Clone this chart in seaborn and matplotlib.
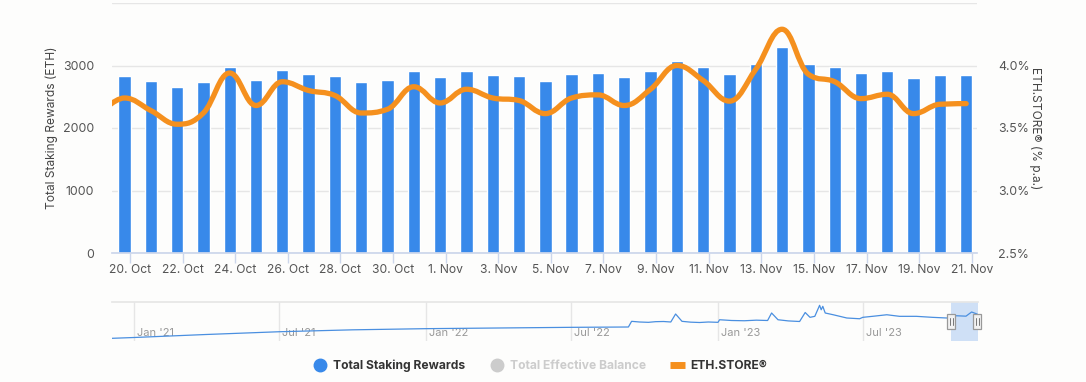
import numpy as np
import pandas as pd
import matplotlib
matplotlib.use("Agg")
import matplotlib.pyplot as plt
import matplotlib.transforms as mtransforms
from matplotlib.path import Path
from matplotlib.patches import PathPatch, Rectangle
from matplotlib.lines import Line2D
import seaborn as sns


# -------------------------------
# Data
# -------------------------------
bar_dates = pd.date_range("2023-10-20", "2023-11-21", freq="D")
staking_rewards = [2829, 2749, 2652, 2733, 2973, 2765, 2925, 2861, 2829, 2733,
                   2765, 2909, 2813, 2909, 2845, 2829, 2749, 2861, 2877, 2813,
                   2909, 3070, 2973, 2861, 3021, 3294, 3021, 2973, 2877, 2909,
                   2797, 2845, 2845]

# ETH.STORE starts one day earlier (clipped at the left edge)
store_dates = pd.date_range("2023-10-19", "2023-11-21", freq="D")
eth_store = [3.60, 3.74, 3.64, 3.53, 3.62, 3.94, 3.68, 3.87, 3.80, 3.76,
             3.62, 3.65, 3.83, 3.70, 3.81, 3.74, 3.72, 3.615, 3.74, 3.765,
             3.68, 3.81, 4.00, 3.88, 3.715, 3.97, 4.29, 3.93, 3.87, 3.735,
             3.77, 3.615, 3.69, 3.695]

tick_labels = ["20. Oct", "22. Oct", "24. Oct", "26. Oct", "28. Oct", "30. Oct",
               "1. Nov", "3. Nov", "5. Nov", "7. Nov", "9. Nov", "11. Nov",
               "13. Nov", "15. Nov", "17. Nov", "19. Nov", "21. Nov"]

left_ticks = [0, 1000, 2000, 3000, 4000]
left_tick_labels = ["0", "1000", "2000", "3000", ""]
right_ticks = [2.5, 3.0, 3.5, 4.0, 4.5]
right_tick_labels = ["2.5%", "3.0%", "3.5%", "4.0%", ""]

# navigator (full history of daily rewards)
nav_dates = pd.to_datetime([
    "2020-12-04", "2021-01-01", "2021-04-01", "2021-07-01", "2021-10-01",
    "2022-01-01", "2022-04-01", "2022-07-01", "2022-09-11", "2022-09-15",
    "2022-09-25", "2022-10-06", "2022-10-15", "2022-10-25", "2022-11-03",
    "2022-11-09", "2022-11-17", "2022-11-28", "2022-12-09", "2022-12-20",
    "2023-01-01", "2023-01-03", "2023-01-18", "2023-02-03", "2023-02-18",
    "2023-03-04", "2023-03-09", "2023-03-17", "2023-03-30", "2023-04-13",
    "2023-04-20", "2023-04-26", "2023-05-02", "2023-05-08", "2023-05-10",
    "2023-05-12", "2023-05-15", "2023-05-25", "2023-06-11", "2023-06-27",
    "2023-07-01", "2023-07-15", "2023-07-31", "2023-08-16", "2023-09-06",
    "2023-09-26", "2023-10-14", "2023-10-26", "2023-11-07", "2023-11-14",
    "2023-11-21"])
nav_rewards = [240, 340, 700, 1030, 1260,
               1400, 1480, 1560, 1600, 2280,
               2200, 2160, 2240, 2260, 2200,
               3160, 2280, 2180, 2140, 2200,
               2160, 2470, 2380, 2350, 2420,
               2380, 3280, 2470, 2330, 2260,
               3340, 2760, 2880, 4200, 3670,
               4080, 3280, 3070, 2680, 2590,
               2760, 2900, 3070, 2880, 2880,
               2760, 2680, 2950, 2900, 3400,
               3150]
nav_label_dates = pd.to_datetime(["2021-01-01", "2021-07-01", "2022-01-01",
                                  "2022-07-01", "2023-01-01", "2023-07-01"])
nav_labels = ["Jan '21", "Jul '21", "Jan '22", "Jul '22", "Jan '23", "Jul '23"]

BLUE = "#3889ea"
ORANGE = "#f5901e"
GREY_TXT = "#555555"
BG = "#fdfdfc"


# -------------------------------
# Highcharts-like spline path
# -------------------------------
def spline_path(xs, ys, smoothing=1.5):
    verts = [(xs[0], ys[0])]
    codes = [Path.MOVETO]
    right_prev = (xs[0], ys[0])
    n = len(xs)
    for i in range(1, n):
        x, y = xs[i], ys[i]
        if i < n - 1:
            lx, ly = xs[i - 1], ys[i - 1]
            nx, ny = xs[i + 1], ys[i + 1]
            d = smoothing + 1
            lcx, lcy = (smoothing * x + lx) / d, (smoothing * y + ly) / d
            rcx, rcy = (smoothing * x + nx) / d, (smoothing * y + ny) / d
            corr = (rcy - lcy) * (rcx - x) / (rcx - lcx) + y - rcy
            lcy += corr
            rcy += corr
            if lcy > ly and lcy > y:
                lcy = max(ly, y); rcy = 2 * y - lcy
            elif lcy < ly and lcy < y:
                lcy = min(ly, y); rcy = 2 * y - lcy
            if rcy > ny and rcy > y:
                rcy = max(ny, y); lcy = 2 * y - rcy
            elif rcy < ny and rcy < y:
                rcy = min(ny, y); lcy = 2 * y - rcy
            left, right = (lcx, lcy), (rcx, rcy)
        else:
            left, right = (x, y), (x, y)
        verts += [right_prev, left, (x, y)]
        codes += [Path.CURVE4] * 3
        right_prev = right
    return Path(verts, codes)


# -------------------------------
# Figure
# -------------------------------
sns.set_theme(style="white")
plt.rcParams["font.family"] = ["Inter", "DejaVu Sans"]
plt.rcParams["figure.facecolor"] = BG
plt.rcParams["axes.facecolor"] = "none"

fig = plt.figure(figsize=(10.86, 3.82), dpi=100)
W, H = 1086, 382
ax = fig.add_axes([112 / W, 1 - 253 / H, 865 / W, 250 / H])
ax2 = ax.twinx()
nav = fig.add_axes([112 / W, 1 - 341 / H, 866 / W, 39 / H])

# bars sit a little left of the midnight ticks
day0 = bar_dates[0]
shift = -0.21
bar_x = np.array([(d - day0).days for d in bar_dates]) + shift
store_x = np.array([(d - day0).days for d in store_dates]) + shift
tick_x = [(d - day0).days for d in bar_dates[::2]]

sns.barplot(x=bar_x, y=staking_rewards, native_scale=True, width=0.47,
            color=BLUE, saturation=1, ax=ax, zorder=2)
ax.set_xlim(-0.684, 32.2)
ax.set_ylim(0, 4000)
ax.set_xticks(tick_x)
ax.set_xticklabels(tick_labels)
ax.set_yticks(left_ticks)
ax.set_yticklabels(left_tick_labels)
ax.grid(axis="y", color="#e6e6e6", lw=1)
ax.grid(axis="x", visible=False)
ax.set_axisbelow(True)
for s in ["left", "right", "top"]:
    ax.spines[s].set_visible(False)
ax.spines["bottom"].set_color("#ccd6eb")
ax.tick_params(axis="x", length=7.2, width=1, color="#ccd6eb", pad=1,
               labelsize=8.7, labelcolor=GREY_TXT, bottom=True)
ax.tick_params(axis="y", length=0, pad=13, labelsize=8.9, labelcolor=GREY_TXT)
ax.set_xlabel("")
ax.set_ylabel("Total Staking Rewards (ETH)", fontsize=8.6, color="#444444",
              va="center", ha="center")
ax.yaxis.set_label_coords((52 - 112) / 865, 0.5)

ax2.set_ylim(2.5, 4.5)
ax2.set_yticks(right_ticks)
ax2.set_yticklabels(right_tick_labels)
ax2.grid(False)
for s in ax2.spines.values():
    s.set_visible(False)
ax2.tick_params(axis="y", length=0, pad=15, labelsize=8.9, labelcolor=GREY_TXT)
ax2.set_ylabel("ETH.STORE® (% p.a.)", rotation=270, fontsize=8.6,
               color="#444444", va="center", ha="center")
ax2.yaxis.set_label_coords((1035 - 112) / 865, 0.5)
ax2.add_patch(PathPatch(spline_path(store_x, eth_store), fill=False,
                        edgecolor=ORANGE, lw=3.8, capstyle="round",
                        joinstyle="round", zorder=3))

# -------------------------------
# Navigator
# -------------------------------
nav_start = pd.Timestamp("2020-12-04 12:00")
nav_end = pd.Timestamp("2023-11-22")
sel_start = pd.Timestamp("2023-10-19")
sns.lineplot(x=nav_dates, y=nav_rewards, ax=nav, color="#4a8fe0", lw=0.9,
             zorder=3)
nav.set_xlim(nav_start, nav_end)
nav.set_ylim(-80, 4600)
nav.axvspan(sel_start, nav_end, color="#cfe0f6", zorder=1, lw=0)
nav.set_xticks(nav_label_dates)
nav.grid(axis="x", color="#e6e6e6", lw=1)
nav.grid(axis="y", visible=False)
nav.tick_params(length=0, labelbottom=False, labelleft=False)
nav.set_xlabel("")
nav.set_ylabel("")
for s in ["left", "right", "bottom"]:
    nav.spines[s].set_visible(False)
nav.spines["top"].set_color("#e6e6e6")

lbl_tr = mtransforms.offset_copy(nav.get_xaxis_transform(), fig=fig, x=3,
                                 y=0, units="dots")
for d, t in zip(nav_label_dates, nav_labels):
    nav.text(d, 0.2, t, transform=lbl_tr, fontsize=8, color="#999999",
             ha="left", va="center", zorder=2)

# range handles at both ends of the selected window
xtr = nav.get_xaxis_transform()
hw = pd.Timedelta(days=10.5)
for d in [sel_start + pd.Timedelta(days=0.6), nav_end - pd.Timedelta(days=0.9)]:
    nav.add_patch(Rectangle((d - hw / 2, 0.31), hw, 0.38, transform=xtr,
                            facecolor="#f2f2f2", edgecolor="#999999", lw=0.9,
                            zorder=4, clip_on=False))
    for off in [-1.6, 1.6]:
        xx = d + pd.Timedelta(days=off)
        nav.plot([xx, xx], [0.40, 0.60], transform=xtr, color="#777777",
                 lw=0.7, zorder=5, clip_on=False)

# -------------------------------
# Legend
# -------------------------------
handles = [
    Line2D([], [], marker="o", ls="", markersize=9, color=BLUE),
    Line2D([], [], marker="o", ls="", markersize=9, color="#cccccc"),
    Line2D([], [], color=ORANGE, lw=5, solid_capstyle="butt"),
]
labels = ["Total Staking Rewards", "Total Effective Balance", "ETH.STORE®"]
leg = fig.legend(handles, labels, loc="center", bbox_to_anchor=(540 / W, 1 - 366 / H),
                 ncol=3, frameon=False, handlelength=1.2, handletextpad=0.5,
                 columnspacing=2.0, prop={"weight": "bold", "size": 8.7})
for txt, c in zip(leg.get_texts(), ["#333333", "#cccccc", "#333333"]):
    txt.set_color(c)

fig.savefig("out.png", dpi=100, facecolor=BG)
